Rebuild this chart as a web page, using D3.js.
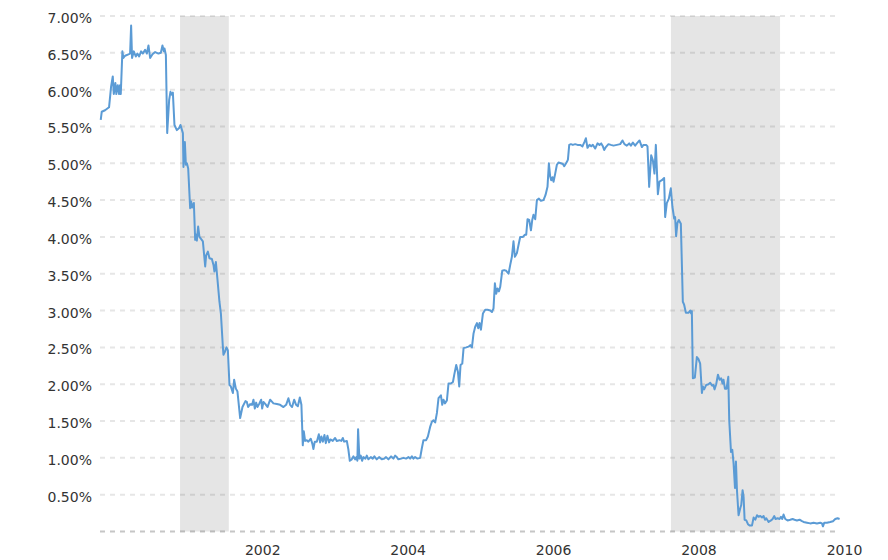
<!DOCTYPE html>
<html><head><meta charset="utf-8">
<script src="https://cdn.jsdelivr.net/npm/d3@7"></script>
<style>body{margin:0;background:#fff}svg{display:block}</style>
</head><body><svg id="c" width="888" height="560"></svg>
<script>
// decimal-year dates of observations
const years = [2000.073,2000.087,2000.132,2000.187,2000.215,2000.238,2000.252,2000.274,2000.287,2000.307,2000.325,2000.338,2000.348,2000.370,2000.384,2000.407,2000.453,2000.476,2000.490,2000.503,2000.527,2000.554,2000.576,2000.600,2000.627,2000.651,2000.682,2000.706,2000.728,2000.751,2000.783,2000.820,2000.865,2000.898,2000.920,2000.939,2000.948,2000.967,2000.985,
2001.012,2001.030,2001.050,2001.063,2001.085,2001.118,2001.150,2001.168,2001.201,2001.209,2001.228,2001.242,2001.256,2001.274,2001.301,2001.315,2001.329,2001.352,2001.370,2001.384,2001.393,2001.411,2001.429,2001.453,2001.476,2001.508,2001.521,2001.545,2001.567,2001.600,2001.622,2001.635,2001.655,2001.677,2001.704,2001.724,2001.751,2001.759,2001.779,2001.801,2001.820,2001.842,2001.861,2001.889,2001.906,2001.930,2001.952,2001.989,
2002.021,2002.062,2002.081,2002.099,2002.127,2002.154,2002.172,2002.191,2002.209,2002.227,2002.254,2002.278,2002.292,2002.310,2002.337,2002.365,2002.402,2002.447,2002.494,2002.539,2002.585,2002.622,2002.653,2002.677,2002.704,2002.732,2002.759,2002.783,2002.810,2002.832,2002.851,2002.865,2002.883,2002.906,2002.928,2002.961,2002.983,2002.997,
2003.016,2003.044,2003.072,2003.089,2003.107,2003.127,2003.149,2003.168,2003.190,2003.213,2003.231,2003.264,2003.296,2003.319,2003.355,2003.382,2003.402,2003.420,2003.457,2003.479,2003.498,2003.525,2003.547,2003.571,2003.589,2003.602,2003.612,2003.630,2003.649,2003.667,2003.685,2003.713,2003.732,2003.754,2003.787,2003.814,2003.836,2003.869,2003.901,2003.938,2003.974,2003.997,
2004.029,2004.066,2004.098,2004.121,2004.144,2004.166,2004.204,2004.235,2004.272,2004.304,2004.327,2004.351,2004.373,2004.396,2004.428,2004.465,2004.488,2004.510,2004.547,2004.571,2004.602,2004.626,2004.648,2004.671,2004.695,2004.717,2004.750,2004.768,2004.785,2004.805,2004.832,2004.854,2004.887,2004.915,2004.933,2004.960,2004.983,
2005.001,2005.019,2005.043,2005.061,2005.098,2005.129,2005.153,2005.176,2005.198,2005.221,2005.245,2005.263,2005.281,2005.300,2005.327,2005.359,2005.391,2005.428,2005.451,2005.473,2005.492,2005.510,2005.528,2005.547,2005.565,2005.593,2005.620,2005.648,2005.680,2005.703,2005.726,2005.748,2005.767,2005.795,2005.817,2005.840,2005.878,2005.905,2005.923,2005.941,2005.964,2005.988,
2006.006,2006.023,2006.047,2006.070,2006.098,2006.125,2006.161,2006.189,2006.216,2006.235,2006.253,2006.267,2006.285,2006.299,2006.322,2006.345,2006.367,2006.400,2006.428,2006.446,2006.459,2006.483,2006.497,2006.515,2006.538,2006.565,2006.597,2006.629,2006.666,2006.697,2006.725,2006.744,2006.766,2006.794,2006.817,2006.840,2006.872,2006.904,2006.931,2006.955,2006.978,2006.996,
2007.019,2007.055,2007.088,2007.124,2007.171,2007.216,2007.248,2007.275,2007.308,2007.340,2007.363,2007.391,2007.422,2007.446,2007.482,2007.515,2007.537,2007.574,2007.592,2007.615,2007.643,2007.666,2007.688,2007.707,2007.735,2007.757,2007.790,2007.821,2007.835,2007.858,2007.886,2007.913,2007.935,2007.959,2007.972,2007.986,
2008.004,2008.023,2008.051,2008.078,2008.096,2008.120,2008.155,2008.179,2008.192,2008.202,2008.216,2008.243,2008.271,2008.293,2008.316,2008.340,2008.353,2008.371,2008.399,2008.431,2008.454,2008.481,2008.499,2008.513,2008.536,2008.560,2008.582,2008.605,2008.623,2008.637,2008.656,2008.678,2008.702,2008.715,2008.739,2008.757,2008.774,2008.794,2008.807,2008.821,2008.843,2008.867,2008.880,2008.898,2008.912,2008.926,2008.949,2008.972,2008.995,
2009.027,2009.050,2009.073,2009.096,2009.118,2009.142,2009.165,2009.187,2009.206,2009.224,2009.256,2009.289,2009.311,2009.334,2009.352,2009.380,2009.407,2009.426,2009.444,2009.462,2009.485,2009.517,2009.554,2009.586,2009.613,2009.646,2009.682,2009.715,2009.737,2009.784,2009.829,2009.875,2009.921,2009.967,2009.990,
2010.004,2010.022,2010.059,2010.104,2010.142,2010.173,2010.205,2010.233];

// rate, percent
const rates = [5.59,5.70,5.72,5.76,6.04,6.18,5.94,6.09,5.94,6.06,5.94,6.06,5.94,6.52,6.43,6.46,6.48,6.49,6.87,6.43,6.52,6.45,6.49,6.45,6.52,6.49,6.54,6.49,6.60,6.43,6.48,6.51,6.49,6.50,6.60,6.52,6.56,6.47,5.41,
5.86,5.97,5.93,5.96,5.52,5.45,5.48,5.52,5.41,4.95,5.29,4.98,5.00,4.93,4.39,4.48,4.40,4.46,3.96,4.03,3.95,4.14,4.00,3.97,3.94,3.60,3.75,3.80,3.71,3.70,3.62,3.53,3.66,3.42,3.12,2.96,2.51,2.40,2.44,2.50,2.46,1.99,1.97,1.88,2.06,1.94,1.90,1.54,
1.69,1.77,1.76,1.69,1.73,1.72,1.79,1.67,1.75,1.69,1.74,1.79,1.67,1.76,1.73,1.69,1.79,1.74,1.73,1.72,1.69,1.72,1.81,1.72,1.69,1.79,1.72,1.70,1.82,1.72,1.17,1.36,1.23,1.24,1.22,1.26,1.19,1.12,
1.22,1.22,1.32,1.21,1.29,1.22,1.31,1.20,1.30,1.21,1.25,1.23,1.27,1.23,1.24,1.23,1.27,1.22,1.23,1.11,0.96,0.98,1.02,0.98,1.01,0.96,1.39,0.99,1.03,0.96,1.01,0.99,1.03,0.98,1.01,0.99,1.02,0.98,1.01,0.98,0.99,1.01,
0.98,1.02,0.99,1.03,1.01,0.98,0.99,1.00,0.99,1.01,0.99,1.02,0.99,1.01,0.99,1.00,1.13,1.24,1.24,1.29,1.42,1.49,1.51,1.48,1.61,1.81,1.85,1.72,1.79,1.74,1.78,2.01,2.01,2.03,2.13,2.26,2.17,
1.97,2.26,2.28,2.49,2.50,2.51,2.53,2.50,2.69,2.78,2.83,2.76,2.83,2.74,2.96,3.01,3.01,3.00,2.98,3.03,3.37,3.23,3.30,3.26,3.32,3.54,3.55,3.54,3.50,3.62,3.73,3.94,3.73,3.78,3.89,4.00,4.00,4.03,4.03,4.24,4.23,4.09,
4.23,4.30,4.24,4.50,4.52,4.49,4.50,4.57,4.68,5.00,4.82,4.77,4.81,4.75,4.86,4.98,5.01,5.00,4.99,4.96,4.98,5.02,5.05,5.25,5.26,5.25,5.26,5.25,5.25,5.23,5.29,5.34,5.21,5.25,5.23,5.25,5.20,5.27,5.25,5.27,5.23,5.18,
5.22,5.26,5.25,5.24,5.25,5.26,5.31,5.26,5.24,5.27,5.24,5.28,5.24,5.27,5.31,5.22,5.25,5.25,5.23,4.68,5.11,5.04,4.86,5.25,4.58,4.75,4.77,4.80,4.27,4.46,4.52,4.66,4.41,4.25,4.27,4.01,
4.19,4.23,4.18,3.12,3.08,2.97,2.97,3.00,2.96,2.99,2.08,2.09,2.37,2.34,2.28,1.88,1.97,1.93,1.99,2.00,2.02,1.98,1.99,1.93,2.00,2.13,2.06,2.08,2.01,2.06,1.94,1.94,2.10,1.51,1.08,1.11,0.93,0.59,0.95,0.56,0.22,0.32,0.36,0.56,0.47,0.16,0.15,0.10,0.08,
0.08,0.19,0.16,0.22,0.20,0.21,0.19,0.21,0.16,0.18,0.13,0.15,0.17,0.21,0.17,0.18,0.17,0.20,0.17,0.23,0.17,0.15,0.16,0.17,0.16,0.15,0.16,0.14,0.13,0.12,0.11,0.12,0.11,0.12,0.11,
0.07,0.12,0.12,0.13,0.14,0.17,0.18,0.17];

const yTicks = [0.5,1,1.5,2,2.5,3,3.5,4,4.5,5,5.5,6,6.5,7];
const xTickYears = [2002,2004,2006,2008,2010];
const recessionStarts = ["2001-03-01","2007-12-01"];
const recessionEnds = ["2001-11-01","2009-06-01"];

function yearToDate(t){
  const yr = Math.floor(t);
  const s = Date.UTC(yr,0,1), e = Date.UTC(yr+1,0,1);
  return new Date(s + (t - yr) * (e - s));
}
const parseDay = d3.utcParse("%Y-%m-%d");
const data = years.map((t,i)=>({date: yearToDate(t), v: rates[i]}));

const svg = d3.select("#c");
const plotL = 100, plotR = 837, plotT = 16, plotB = 531.5;
const x = d3.scaleUtc().domain([new Date(Date.UTC(2000,0,24)), new Date(Date.UTC(2010,2,14))]).range([plotL, plotR]);
const y = d3.scaleLinear().domain([0,7]).range([plotB, plotT]);

const font = "'DejaVu Sans', Verdana, sans-serif";

// gridlines
svg.append("g").selectAll("line").data([0].concat(yTicks)).join("line")
  .attr("x1", plotL).attr("x2", plotR)
  .attr("y1", d=>y(d)).attr("y2", d=>y(d))
  .attr("stroke", d=> d===0 ? "#c6c6c6" : "#e6e6e6")
  .attr("stroke-width", 2)
  .attr("stroke-dasharray", "5,5");

// recession shading
svg.append("g").selectAll("rect").data(recessionStarts.map((s,i)=>[parseDay(s), parseDay(recessionEnds[i])])).join("rect")
  .attr("x", d=>x(d[0])).attr("width", d=>x(d[1])-x(d[0]))
  .attr("y", plotT).attr("height", plotB-plotT)
  .attr("fill", "rgba(0,0,0,0.1)");

// y labels
svg.append("g").selectAll("text").data(yTicks).join("text")
  .attr("x", 92).attr("y", d=>y(d)).attr("dy", "0.5em")
  .attr("text-anchor", "end")
  .attr("font-family", font).attr("font-size", 14).attr("fill", "#333")
  .text(d=>d3.format(".2f")(d)+"%");

// x labels
svg.append("g").selectAll("text").data(xTickYears).join("text")
  .attr("x", d=>x(new Date(Date.UTC(d,0,1)))+4).attr("y", 555)
  .attr("text-anchor", "start")
  .attr("font-family", font).attr("font-size", 14).attr("fill", "#333")
  .text(d=>d);

// line
svg.append("path").datum(data)
  .attr("fill","none").attr("stroke","#5b9bd5").attr("stroke-width",2)
  .attr("stroke-linejoin","round")
  .attr("d", d3.line().x(d=>x(d.date)).y(d=>y(d.v)));
</script></body></html>
